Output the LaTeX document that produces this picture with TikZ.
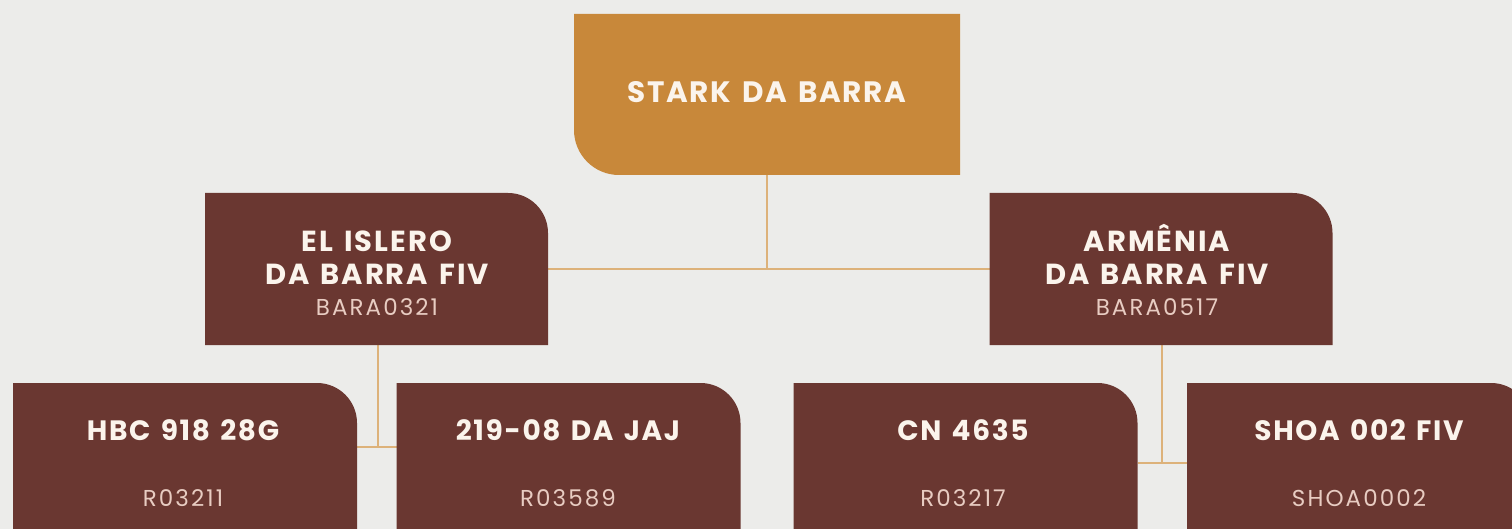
\documentclass[tikz,border=0pt]{standalone}
\usepackage{fontspec}
\setmainfont{Poppins}
\newfontfamily\ttlfont[LetterSpace=6,WordSpace=1.35]{Poppins}
\newfontfamily\midfont[LetterSpace=7,WordSpace=1.35]{Poppins}
\newfontfamily\subfont[LetterSpace=9]{Poppins}
\definecolor{bg}{HTML}{ECECEA}
\definecolor{gold}{HTML}{C8883A}
\definecolor{brn}{HTML}{6A3731}
\definecolor{ln}{HTML}{DDB27A}
\definecolor{ttl}{HTML}{FBF4EC}
\definecolor{sub}{HTML}{E8CCC2}
\newcommand\brownshape[1]{\fill[brn] (#1.south west) -- (#1.north west) -- ([xshift=-40pt]#1.north east) arc[start angle=90,end angle=0,radius=40pt] -- (#1.south east) -- cycle;}
\begin{document}
\begin{tikzpicture}[x=1pt,y=-1pt,
  frame/.style={inner sep=0pt,outer sep=0pt,draw=none},
  topbox/.style={frame,minimum width=386pt,minimum height=161pt},
  midbox/.style={frame,minimum width=343pt,minimum height=152pt},
  lowbox/.style={frame,minimum width=344pt,minimum height=177pt},
  toptxt/.style={anchor=base,text=ttl,font=\ttlfont\fontsize{29.5}{30}\selectfont\bfseries,inner sep=0pt},
  midtxt/.style={anchor=base,text=ttl,font=\midfont\fontsize{29}{30}\selectfont\bfseries,inner sep=0pt},
  midsub/.style={anchor=base,text=sub,font=\subfont\fontsize{23}{26}\selectfont,inner sep=0pt},
  lowtxt/.style={anchor=base,text=ttl,font=\ttlfont\fontsize{28}{30}\selectfont\bfseries,inner sep=0pt},
  lowsub/.style={anchor=base,text=sub,font=\subfont\fontsize{23}{24}\selectfont,inner sep=0pt},
  link/.style={draw=ln,line width=2pt}]
\fill[bg] (0,0) rectangle (1512,529);
\useasboundingbox (0,0) rectangle (1512,529);
\clip (0,0) rectangle (1512,529);
% boxes
\node[topbox] (stark) at (767,94.5) {};
\node[midbox] (islero) at (376.5,269) {};
\node[midbox] (armenia) at (1161,269) {};
\node[lowbox] (hbc) at (185,471.5) {};
\node[lowbox] (jaj) at (568.5,471.5) {};
\node[lowbox] (cn) at (965.5,471.5) {};
\node[lowbox] (shoa) at (1359,471.5) {};
% connectors
\coordinate (j1) at (stark.south |- islero.east);
\coordinate (j2) at ([xshift=1.5pt]islero.south |- 0,447);
\coordinate (j3) at ([xshift=1pt]armenia.south |- 0,463);
\draw[link] (stark.south) -- (j1);
\draw[link] (islero.east) -- (armenia.west);
\draw[link] ([xshift=1.5pt]islero.south) -- (j2);
\draw[link] (hbc.east |- j2) -- (jaj.west |- j2);
\draw[link] ([xshift=1pt]armenia.south) -- (j3);
\draw[link] (cn.east |- j3) -- (shoa.west |- j3);
% shapes
\fill[gold] (stark.north west) -- (stark.north east) -- (stark.south east) -- ([xshift=45pt]stark.south west) arc[start angle=270,end angle=180,radius=45pt] -- cycle;
\brownshape{islero}
\brownshape{armenia}
\brownshape{hbc}
\brownshape{jaj}
\brownshape{cn}
\brownshape{shoa}
% texts
\node[toptxt] (stark-t) at (767,103) {STARK DA BARRA};
\node[midtxt] (islero-a) at (377,252) {EL ISLERO};
\node[midtxt] (islero-b) at (377,285) {DA BARRA FIV};
\node[midsub] (islero-c) at (377,316) {BARA0321};
\node[midtxt] (armenia-a) at (1157,252) {ARMÊNIA};
\node[midtxt] (armenia-b) at (1157,285) {DA BARRA FIV};
\node[midsub] (armenia-c) at (1157,316) {BARA0517};
\node[lowtxt] (hbc-a) at (183,440) {HBC 918 28G};
\node[lowsub] (hbc-b) at (183,506) {R03211};
\node[lowtxt] (jaj-a) at (568,440) {219-08 DA JAJ};
\node[lowsub] (jaj-b) at (568,506) {R03589};
\node[lowtxt] (cn-a) at (963,440) {CN 4635};
\node[lowsub] (cn-b) at (963,506) {R03217};
\node[lowtxt] (shoa-a) at (1359,440) {SHOA 002 FIV};
\node[lowsub] (shoa-b) at (1359,506) {SHOA0002};
\end{tikzpicture}
\end{document}
